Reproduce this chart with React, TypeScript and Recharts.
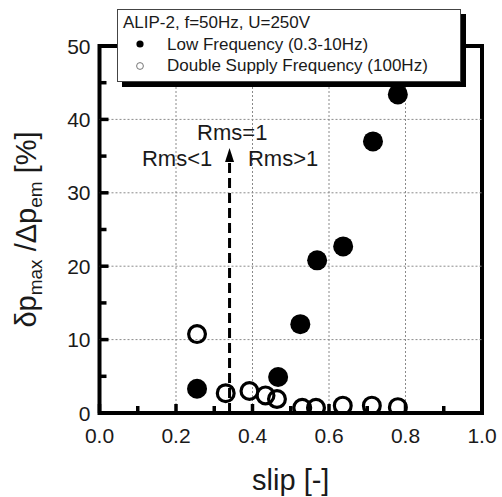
import React from 'react';
import {
  ScatterChart,
  Scatter,
  XAxis,
  YAxis,
  ReferenceLine,
  ReferenceArea,
  ReferenceDot,
  Legend,
} from 'recharts';

// ---- data ----
const lowFreqName = 'Low Frequency (0.3-10Hz)';
const lowFreqSlip = [0.255, 0.467, 0.525, 0.569, 0.637, 0.715, 0.78];
const lowFreqRatio = [3.3, 4.9, 12.1, 20.8, 22.7, 37.0, 43.4];

const doubleFreqName = 'Double Supply Frequency (100Hz)';
const doubleFreqSlip = [0.255, 0.33, 0.392, 0.434, 0.464, 0.53, 0.566, 0.636, 0.712, 0.78];
const doubleFreqRatio = [10.75, 2.7, 3.0, 2.4, 1.9, 0.7, 0.7, 1.0, 1.0, 0.8];

const legendTitle = 'ALIP-2, f=50Hz, U=250V';
const legendNames = [lowFreqName, doubleFreqName];

const xTicks = [0, 0.1, 0.2, 0.3, 0.4, 0.5, 0.6, 0.7, 0.8, 0.9, 1.0];
const yTicks = [0, 5, 10, 15, 20, 25, 30, 35, 40, 45, 50];
const xGrid = [0.2, 0.4, 0.6, 0.8];
const yGrid = [10, 20, 30, 40];

const rmsSlip = 0.34;
const rmsLineTop = 34.3;
const rmsArrowTip = 36.1;
const annotations = [
  { text: 'Rms=1', slip: 0.347, ratio: 38.3 },
  { text: 'Rms<1', slip: 0.203, ratio: 34.7 },
  { text: 'Rms>1', slip: 0.48, ratio: 34.7 },
];

const lowData = lowFreqSlip.map((s, i) => ({ slip: s, ratio: lowFreqRatio[i] }));
const doubleData = doubleFreqSlip.map((s, i) => ({ slip: s, ratio: doubleFreqRatio[i] }));

// ---- styles ----
const FONT = "'Liberation Sans', Arial, Helvetica, sans-serif";
const TEXT = '#1a1a1a';
const TICK = '#000';

const isMajorX = (v: number) => Math.abs(v * 5 - Math.round(v * 5)) < 1e-6;
const isMajorY = (v: number) => v % 10 === 0;

const XTick = (p: any) => {
  const { x, y, payload } = p;
  const v = payload.value as number;
  const major = isMajorX(v);
  return (
    <g>
      <line x1={x} x2={x} y1={y} y2={y - (major ? 9 : 7)} stroke={TICK} strokeWidth={3.5} />
      {major && (
        <text x={x} y={y + 30} textAnchor="middle" fontSize={21} fontFamily={FONT} fill={TEXT}>
          {v.toFixed(1)}
        </text>
      )}
    </g>
  );
};

const YTick = (p: any) => {
  const { x, y, payload } = p;
  const v = payload.value as number;
  const major = isMajorY(v);
  return (
    <g>
      <line x1={x} x2={x + (major ? 9 : 7)} y1={y} y2={y} stroke={TICK} strokeWidth={3.5} />
      {major && (
        <text x={x - 9} y={y + 7.5} textAnchor="end" fontSize={21} fontFamily={FONT} fill={TEXT}>
          {v}
        </text>
      )}
    </g>
  );
};

const RightTick = (p: any) => {
  const { x, y, payload } = p;
  const v = payload.value as number;
  const major = isMajorY(v);
  return <line x1={x} x2={x - (major ? 9 : 7)} y1={y} y2={y} stroke={TICK} strokeWidth={3.5} />;
};

const XLabel = (p: any) => {
  const vb = p.viewBox || { x: 99.5, y: 413, width: 382.5, height: 84 };
  return (
    <text x={vb.x + vb.width / 2} y={vb.y + 77} textAnchor="middle" fontSize={29} fontFamily={FONT} fill={TEXT}>
      slip [-]
    </text>
  );
};

const YLabel = (p: any) => {
  const vb = p.viewBox || { x: 0, y: 46, width: 99.5, height: 367 };
  const cx = 36;
  const cy = vb.y + vb.height / 2;
  return (
    <text
      x={cx}
      y={cy}
      transform={`rotate(-90 ${cx} ${cy})`}
      textAnchor="middle"
      fontSize={29}
      fontFamily={FONT}
      fill={TEXT}
    >
      δp
      <tspan fontSize={19} dy={6}>max</tspan>
      <tspan dy={-6}> /Δp</tspan>
      <tspan fontSize={19} dy={6}>em</tspan>
      <tspan dy={-6}> [%]</tspan>
    </text>
  );
};

const FilledDot = (p: any) => <circle cx={p.cx} cy={p.cy} r={10} fill="#000" />;
const OpenDot = (p: any) => (
  <circle cx={p.cx} cy={p.cy} r={8.4} fill="none" stroke="#000" strokeWidth={3.2} />
);
const NoDot = () => <g />;

const ArrowHead = (p: any) => (
  <polygon
    points={`${p.cx},${p.cy} ${p.cx - 4.5},${p.cy + 14} ${p.cx + 4.5},${p.cy + 14}`}
    fill="#000"
  />
);

const renderLegend = () => (
  <div
    style={{
      width: 344,
      height: 73,
      boxSizing: 'border-box',
      border: '1px solid #444',
      background: '#fff',
      boxShadow: '5px 5px 0 #000',
      fontFamily: FONT,
      fontSize: 17,
      color: TEXT,
      lineHeight: '21.5px',
      padding: '2px 0 0 5px',
      textAlign: 'left',
    }}
  >
    <div style={{ whiteSpace: 'nowrap' }}>{legendTitle}</div>
    {legendNames.map((name, i) => (
      <div key={name} style={{ position: 'relative', height: 21.5, whiteSpace: 'nowrap' }}>
        <svg width={10} height={10} style={{ position: 'absolute', left: 12, top: 5.75 }}>
          {i === 0 ? (
            <circle cx={5} cy={5} r={3.6} fill="#000" />
          ) : (
            <circle cx={5} cy={5} r={3.4} fill="none" stroke="#777" strokeWidth={1} />
          )}
        </svg>
        <span style={{ position: 'absolute', left: 44, top: 0 }}>{name}</span>
      </div>
    ))}
  </div>
);

export default function App() {
  return (
    <div style={{ position: 'absolute', left: 0, top: 0, width: 502, height: 497, background: '#fff' }}>
      <ScatterChart width={502} height={497} margin={{ top: 46, right: 20, bottom: 0, left: 0 }}>
        <XAxis
          type="number"
          dataKey="slip"
          domain={[0, 1]}
          ticks={xTicks}
          interval={0}
          height={84}
          axisLine={false}
          tickLine={false}
          tickSize={0}
          tickMargin={0}
          tick={(p: any) => <XTick {...p} />}
          label={{ content: XLabel }}
          allowDataOverflow
        />
        <YAxis
          type="number"
          dataKey="ratio"
          domain={[0, 50]}
          ticks={yTicks}
          interval={0}
          width={99.5}
          axisLine={false}
          tickLine={false}
          tickSize={0}
          tickMargin={0}
          tick={(p: any) => <YTick {...p} />}
          label={{ content: YLabel }}
          allowDataOverflow
        />
        <YAxis
          yAxisId="right"
          orientation="right"
          type="number"
          dataKey="ratio"
          domain={[0, 50]}
          ticks={yTicks}
          interval={0}
          width={0}
          axisLine={false}
          tickLine={false}
          tickSize={0}
          tickMargin={0}
          tick={(p: any) => <RightTick {...p} />}
          allowDataOverflow
        />
        {xGrid.map((v) => (
          <ReferenceLine key={'gx' + v} x={v} stroke="#8a8a8a" strokeWidth={1} strokeDasharray="2 2" />
        ))}
        {yGrid.map((v) => (
          <ReferenceLine key={'gy' + v} y={v} stroke="#8a8a8a" strokeWidth={1} strokeDasharray="2 2" />
        ))}
        <ReferenceArea x1={0} x2={1} y1={0} y2={50} fill="none" fillOpacity={0} stroke="#000" strokeWidth={4} />
        <ReferenceLine
          segment={[
            { x: rmsSlip, y: 0 },
            { x: rmsSlip, y: rmsLineTop },
          ]}
          stroke="#000"
          strokeWidth={3}
          strokeDasharray="10 5"
        />
        <ReferenceDot x={rmsSlip} y={rmsArrowTip} r={0} shape={ArrowHead} />
        {annotations.map((a) => (
          <ReferenceDot
            key={a.text}
            x={a.slip}
            y={a.ratio}
            r={0}
            shape={(p: any) => (
              <text
                x={p.cx}
                y={p.cy + 8}
                textAnchor="middle"
                fontSize={22}
                fontFamily={FONT}
                fill={TEXT}
              >
                {a.text}
              </text>
            )}
          />
        ))}
        <Scatter
          yAxisId="right"
          data={lowData}
          shape={NoDot}
          legendType="none"
          isAnimationActive={false}
        />
        <Scatter name={lowFreqName} data={lowData} fill="#000" shape={FilledDot} isAnimationActive={false} />
        <Scatter name={doubleFreqName} data={doubleData} fill="#fff" shape={OpenDot} isAnimationActive={false} />
        <Legend
          layout="vertical"
          align="center"
          verticalAlign="middle"
          content={renderLegend}
          wrapperStyle={{ left: 117, top: 9, width: 344, height: 73 }}
        />
      </ScatterChart>
    </div>
  );
}
